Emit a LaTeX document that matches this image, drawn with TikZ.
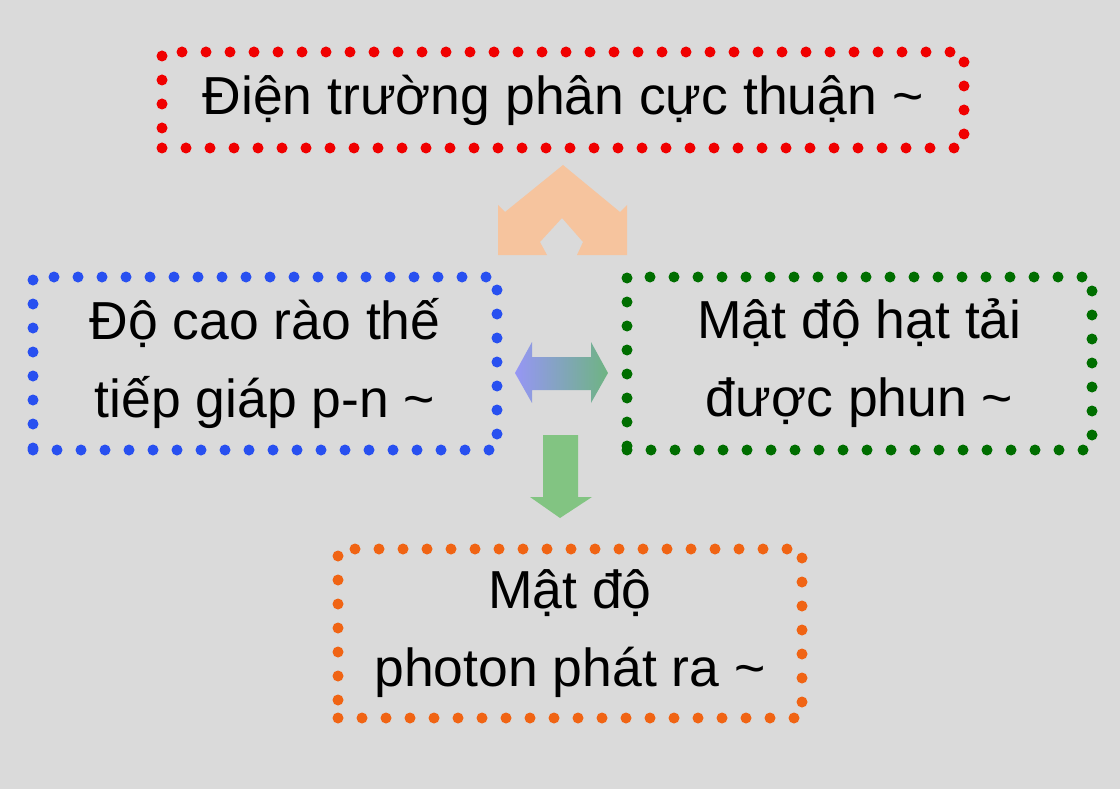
\documentclass[tikz,border=0pt]{standalone}
\usepackage{fontspec}
\setmainfont{Liberation Sans}
\begin{document}
\begin{tikzpicture}[x=1pt,y=-1pt,
  dotbox/.style={line width=11pt,dash pattern=on 0pt off 24pt,line cap=round,
     align=center,font=\fontsize{53.5}{78}\selectfont,text=black,inner sep=0pt},
  ]
\useasboundingbox (0,0) rectangle (1120,789);
\fill[fill={rgb,255:red,218;green,218;blue,218}] (0,0) rectangle (1120,789);
\definecolor{dred}{RGB}{240,0,0}
\definecolor{dblue}{RGB}{40,80,240}
\definecolor{dgreen}{RGB}{0,110,0}
\definecolor{dorange}{RGB}{240,100,20}
\definecolor{peach}{RGB}{246,196,158}
\definecolor{lgreen}{RGB}{130,196,130}

\node[dotbox,draw=dred,minimum width=802pt,minimum height=96pt] (top) at (563,100) {Điện trường phân cực thuận \textasciitilde};
\node[dotbox,draw=dblue,minimum width=464pt,minimum height=173pt] (left) at (265,363.5) {Độ cao rào thế\\tiếp giáp p-n \textasciitilde};
\node[dotbox,draw=dgreen,minimum width=465pt,minimum height=173pt] (right) at (859.5,363.5) {Mật độ hạt tải\\được phun \textasciitilde};
\node[dotbox,draw=dorange,minimum width=464pt,minimum height=169pt] (bottom) at (570,633.5) {Mật độ\\photon phát ra \textasciitilde};

% up chevron arrow
\fill[peach] (498,255) -- (498,205) -- (505,212) -- (563,165) -- (620,212) -- (627,205)
  -- (627,255) -- (577,255) -- (583,242) -- (562,218) -- (540,242) -- (547,255) -- cycle;
% double arrow
\shade[left color={rgb,255:red,150;green,150;blue,245},right color={rgb,255:red,110;green,180;blue,130}]
  (515,373) -- (532,342) -- (532,357) -- (591,357) -- (591,342) -- (608,373)
  -- (591,403) -- (591,390) -- (532,390) -- (532,403) -- cycle;
% down arrow
\fill[lgreen] (543,435) -- (578,435) -- (578,497) -- (592,497) -- (560,518) -- (530,497) -- (543,497) -- cycle;
\end{tikzpicture}
\end{document}
